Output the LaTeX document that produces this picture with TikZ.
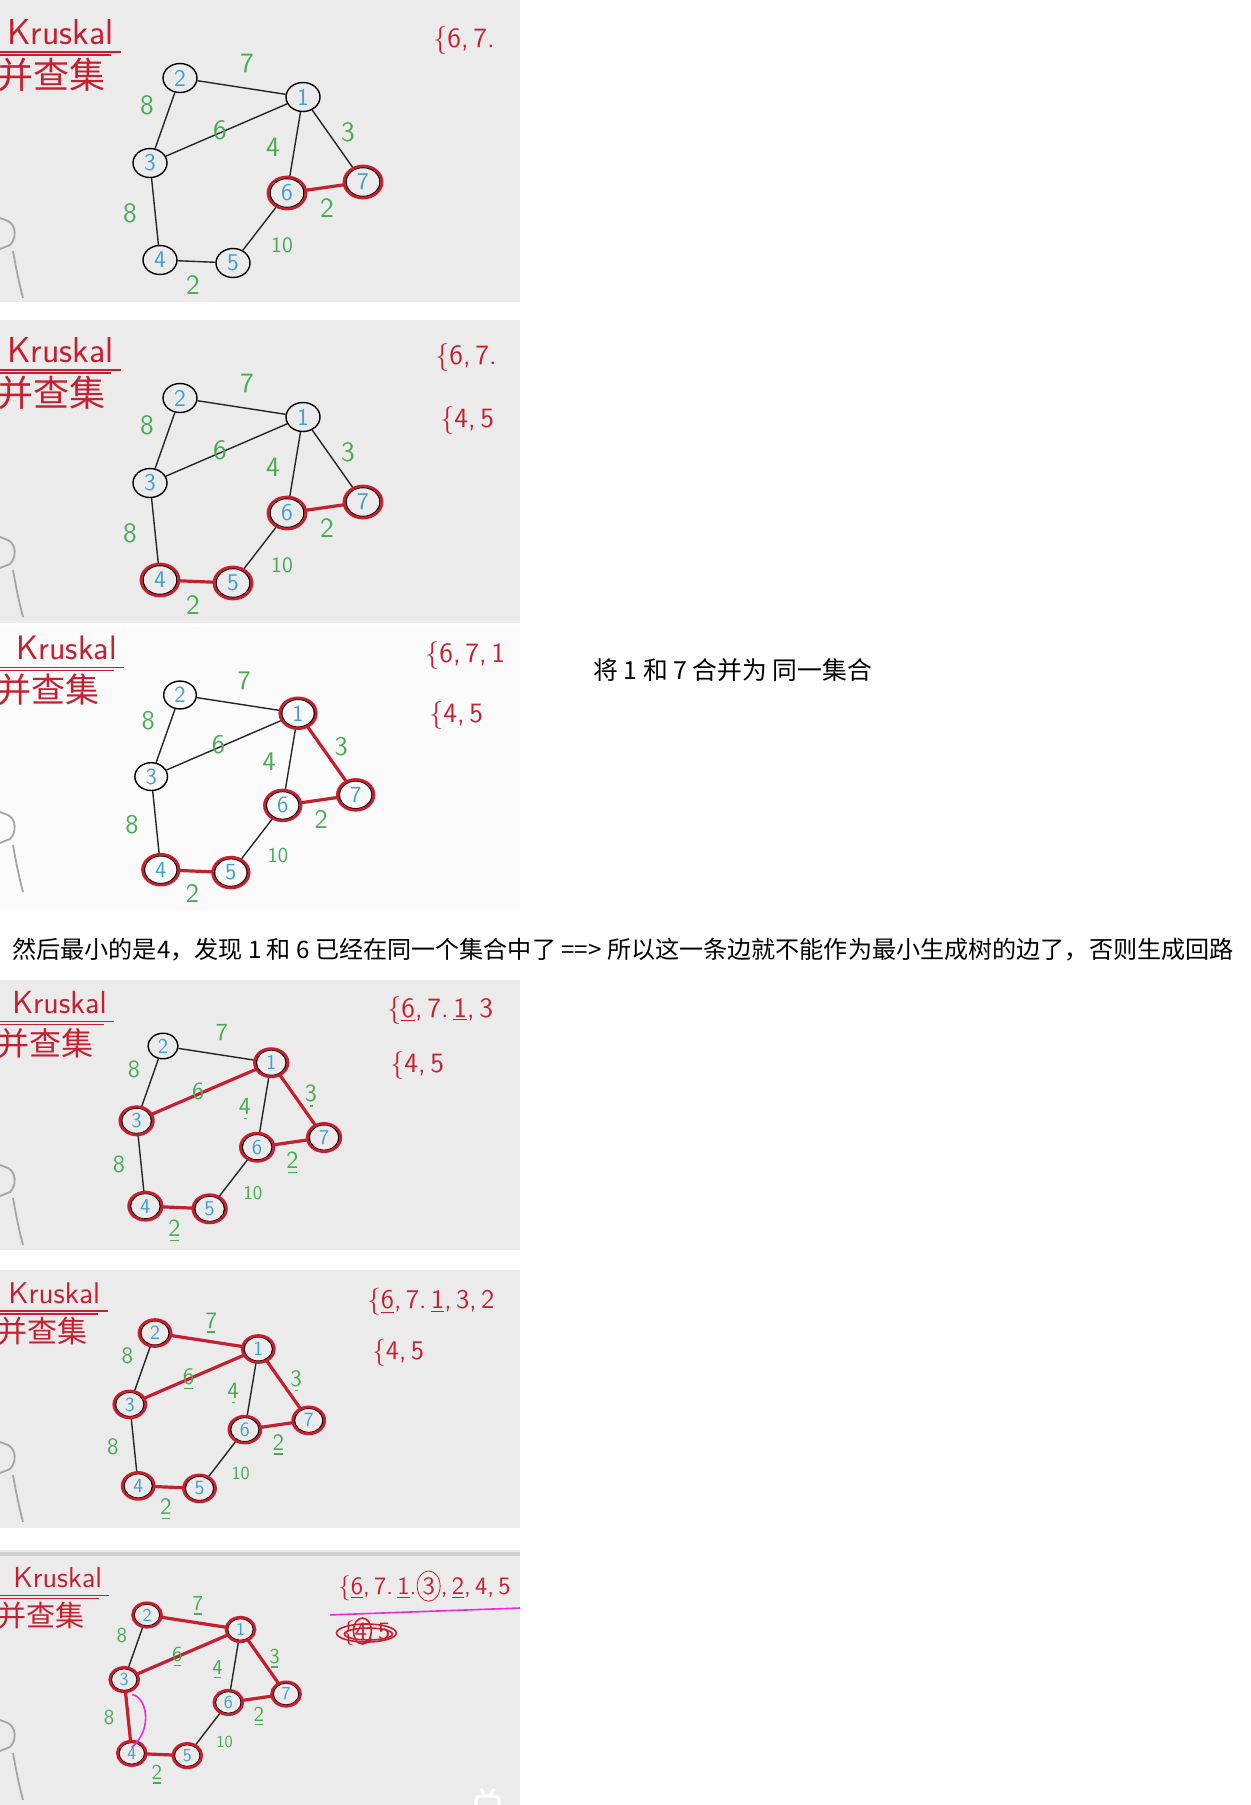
\documentclass[tikz,border=0pt]{standalone}
\usepackage{fontspec}
\newfontfamily\cjk{Noto Sans CJK SC}
\usetikzlibrary{shapes.geometric,calc,positioning}
\definecolor{boardgray}{RGB}{236,235,236}
\definecolor{boardwhite}{RGB}{250,250,250}
\definecolor{penred}{RGB}{198,32,48}
\definecolor{penblue}{RGB}{64,158,210}
\definecolor{pengreen}{RGB}{72,170,82}
\definecolor{penmagenta}{RGB}{236,40,222}
\definecolor{sidegray}{RGB}{165,165,168}
\def\normaledge{0.7pt}
\def\pickededge{1.6pt}

\tikzset{
  vtx/.style={draw=black, ellipse, line width=\normaledge, minimum width=17pt, minimum height=14.5pt,
    inner sep=0pt, text=penblue, font=\sffamily\fontsize{12}{12}\selectfont},
  wlabel/.style={text=pengreen, inner sep=1pt, font=\sffamily\fontsize{14}{14}\selectfont},
  wmark/.style={draw=pengreen, line width=0.7pt},
  sedge/.style={draw=black!85, line width=\normaledge},
  redge/.style={draw=penred, line width=\pickededge},
  ring/.style={draw=penred, line width=1.4pt},
  settext/.style={text=penred, anchor=west, inner sep=0pt, font=\sffamily\fontsize{14}{14}\selectfont},
  boardtitle/.style={text=penred, anchor=west, inner sep=0pt},
  cjktitle/.style={text=penred, anchor=north west, inner sep=0pt},
  titleline/.style={draw=penred, line width=0.8pt},
  msgtext/.style={anchor=west, inner sep=0pt, font=\cjk\fontsize{12.4}{12.4}\selectfont},
  sidefig/.style={draw=sidegray, line width=0.9pt}
}

% graph drawn around node 2 at the origin
\newcommand{\kgraph}[3]{%
  \node[vtx] (#1n2) at (0,0) {2};
  \node[vtx] (#1n1) at (123,19) {1};
  \node[vtx] (#1n3) at (-30,85) {3};
  \node[vtx] (#1n4) at (-20,182) {4};
  \node[vtx] (#1n5) at (53,185) {5};
  \node[vtx] (#1n6) at (107,115) {6};
  \node[vtx] (#1n7) at (183,104) {7};
  \foreach \a/\b in {2/1,2/3,3/1,1/6,1/7,6/7,3/4,4/5,5/6}
    \draw[sedge] (#1n\a) -- (#1n\b);
  \foreach \a/\b in {#3}
    \draw[redge] (#1n\a) -- (#1n\b);
  \foreach \v in {#2}
    \draw[ring] (#1n\v.center) ellipse (19 and 16);
  \node[wlabel] (#1w21) at (67,-15) {7};
  \node[wlabel] (#1w23) at (-33,27) {8};
  \node[wlabel] (#1w13) at (40,52) {6};
  \node[wlabel] (#1w16) at (93,69) {4};
  \node[wlabel] (#1w17) at (168,54) {3};
  \node[wlabel] (#1w67) at (147,130) {2};
  \node[wlabel] (#1w34) at (-50,135) {8};
  \node[wlabel,font=\sffamily\fontsize{11}{11}\selectfont] (#1w56) at (102,167) {10};
  \node[wlabel] (#1w45) at (13,207) {2};
}

% title block: name, x, y, size
\newcommand{\kruskal}[4]{%
  \node[boardtitle,font=\sffamily\fontsize{#4}{#4}\selectfont] (#1k) at (#2,#3) {Kruskal};
  \draw[titleline] ($(#1k.south west)+(-#2,7)$) -- ($(#1k.south east)+(7,7)$);
  \draw[titleline] ($(#1k.south west)+(-#2,10)$) -- ($(#1k.south east)+(-3,10)$);
  \node[cjktitle,font=\cjk\fontsize{#4}{#4}\selectfont] (#1b) at ($(#1k.south west)+(-#2-3,13)$) {并查集};
}

\newcommand{\sidedoll}[1]{%
  \begin{scope}[shift={(0,#1)}]
    \draw[sidefig] (0,0) -- (8,3) .. controls (16,7) and (17,20) .. (10,27) -- (0,31);
    \draw[sidefig] (13,33) .. controls (16,50) and (19,65) .. (23,80);
  \end{scope}
}

\begin{document}
\begin{tikzpicture}[x=0.5pt, y=-0.5pt]
\useasboundingbox (0,0) rectangle (1251,1805);
\fill[white] (0,0) rectangle (1251,1805);

\fill[boardgray] (0,0) rectangle (520,302);
\fill[boardgray] (0,320) rectangle (520,623);
\fill[boardwhite] (0,627) rectangle (520,910);
\fill[boardgray] (0,980) rectangle (520,1250);
\fill[boardgray] (0,1270) rectangle (520,1528);
\fill[boardgray] (0,1550) rectangle (520,1805);
\fill[black!18] (0,1552) rectangle (520,1556);

% board 1
\kruskal{a}{7}{32}{18}
\sidedoll{218}
\begin{scope}[shift={(180,78)}, scale=1, transform shape]
  \kgraph{a}{6,7}{6/7}
\end{scope}
\node[settext] (s1a) at (433,40) {\{6,\,7.};

% board 2
\kruskal{b}{7}{350}{18}
\sidedoll{537}
\begin{scope}[shift={(180,398)}, scale=1, transform shape]
  \kgraph{b}{6,7,4,5}{6/7,4/5}
\end{scope}
\node[settext] (s2a) at (435,357) {\{6,\,7.};
\node[settext] (s2b) at (440,420) {\{4,\,5};

% board 3
\kruskal{c}{16}{648}{17}
\sidedoll{812}
\begin{scope}[shift={(180,695)}, scale=0.96, transform shape]
  \kgraph{c}{1,7,6,4,5}{1/7,6/7,4/5}
\end{scope}
\node[settext] (s3a) at (425,655) {\{6,\,7,\,1};
\node[settext] (s3b) at (429,715) {\{4,\,5};
\node[msgtext] (msg3) at (593,670) {将 1 和 7 合并为 同一集合};

\node[msgtext,font=\cjk\fontsize{12.05}{12.05}\selectfont] (msg) at (12,950) {然后最小的是4，发现 1 和 6 已经在同一个集合中了 ==> 所以这一条边就不能作为最小生成树的边了，否则生成回路};

% board 4
\kruskal{d}{12}{1003}{16}
\sidedoll{1165}
\begin{scope}[shift={(163,1046)}, scale=0.88, transform shape]
  \kgraph{d}{1,3,4,5,6,7}{1/3,1/7,6/7,4/5}
  \foreach \w in {w67,w45}
    \draw[wmark] ($(d\w.south)+(-5,2)$) -- ($(d\w.south)+(5,2)$);
  \foreach \w in {w16,w17}
    \draw[wmark] ($(d\w.south)+(-1,2)$) -- ($(d\w.south)+(2,2)$);
\end{scope}
\node[settext] (s4a) at (387,1010) {\{\underline{6},\,7.\,\underline{1},\,3};
\node[settext] (s4b) at (390,1065) {\{4,\,5};

% board 5
\kruskal{e}{8}{1293}{15}
\sidedoll{1442}
\begin{scope}[shift={(155,1333)}, scale=0.84, transform shape]
  \kgraph{e}{1,2,3,4,5,6,7}{1/2,1/3,1/7,6/7,4/5}
  \foreach \w in {w21,w13,w67,w45}
    \draw[wmark] ($(e\w.south)+(-5,2)$) -- ($(e\w.south)+(5,2)$);
  \foreach \w in {w16,w17}
    \draw[wmark] ($(e\w.south)+(-1,2)$) -- ($(e\w.south)+(2,2)$);
\end{scope}
\node[settext,font=\sffamily\fontsize{13.5}{13.5}\selectfont] (s5a) at (367,1302) {\{\underline{6},\,7.\,\underline{1},\,3,\,2};
\node[settext,font=\sffamily\fontsize{13.5}{13.5}\selectfont] (s5b) at (372,1353) {\{4,\,5};

% board 6
\kruskal{f}{13}{1578}{14.5}
\sidedoll{1720}
\begin{scope}[shift={(147,1615)}, scale=0.76, transform shape]
  \kgraph{f}{1,2,3,4,5,6,7}{1/2,1/3,1/7,6/7,4/5,3/4}
  \foreach \w in {w21,w13,w16,w17,w67,w45}
    \draw[wmark] ($(f\w.south)+(-5,2)$) -- ($(f\w.south)+(5,2)$);
\end{scope}
\draw[draw=penmagenta, line width=0.8pt] ($(fn3)+(8,15)$) .. controls ($(fn3)+(22,17)$) and ($(fn4)+(22,-25)$) .. ($(fn4)+(0,-6)$);
\node[settext,font=\sffamily\fontsize{12.5}{12.5}\selectfont] (s6a) at (338,1588) {\{\underline{6},\,7.\,\underline{1}.};
\node[settext,font=\sffamily\fontsize{12.5}{12.5}\selectfont, draw=penred, ellipse, inner sep=1pt, base right=0pt of s6a] (s6b) {3};
\node[settext,font=\sffamily\fontsize{12.5}{12.5}\selectfont, base right=0pt of s6b] (s6c) {,\,\underline{2},\,4,\,5};
\draw[draw=penmagenta, line width=0.8pt] ($(s6a.south west)+(-8,14)$) -- (520,1608);
\node[settext,font=\sffamily\fontsize{12.5}{12.5}\selectfont] (s6d) at (342,1633) {\{4,\,5};
\draw[ring, line width=0.8pt] (s6d.center) ellipse (30 and 9);
\draw[ring, line width=0.8pt] ($(s6d.center)+(2,1)$) ellipse (24 and 6);
\draw[ring, line width=0.8pt] ($(s6d.center)+(-4,-2)$) ellipse (9 and 13);
\draw[white, line width=1.6pt, rounded corners=2pt] (476,1796) rectangle (499,1812);
\draw[white, line width=1.6pt] (481,1789) -- (485,1796) (494,1789) -- (490,1796);
\end{tikzpicture}
\end{document}
